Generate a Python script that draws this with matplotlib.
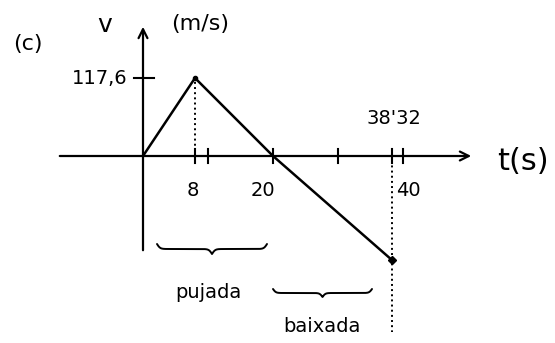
"""
Hand-sketched v-t graph (c): pujada / baixada.
"""

import matplotlib
matplotlib.use("Agg")
import matplotlib.pyplot as plt
import numpy as np

# data
t_pts = [0, 8, 20, 38.32]
v_pts = [0, 117.6, 0, -157]
x_ticks = [8, 10, 20, 30, 38.32, 40]
x_tick_labels = {8: "8", 20: "20", 40: "40"}
v_peak = 117.6
t_peak = 8
t_end = 38.32

# pixel geometry of the sketch -> data limits
W, H = 555, 343
X0, PX_PER_S = 143, 6.5
Y0, PX_PER_V = 156, 78 / 117.6


def t_of(px):
    return (px - X0) / PX_PER_S


def v_of(py):
    return (Y0 - py) / PX_PER_V


def brace(ax, t0, t1, v, depth, beta=35.0):
    """Curly brace with the tip pointing down."""
    u = np.linspace(0, 1, 150)
    y = 1 / (1 + np.exp(-beta * u)) + 1 / (1 + np.exp(-beta * (u - 1))) - 0.5
    half = (t1 - t0) / 2
    xs = np.concatenate([t0 + u * half, t1 - u[::-1] * half])
    ys = np.concatenate([y, y[::-1]])
    ax.plot(xs, v - depth * ys, color="black", lw=1.4, solid_capstyle="round")


fig = plt.figure(figsize=(W / 100, H / 100), dpi=100)
ax = fig.add_axes([0, 0, 1, 1])
ax.set_xlim(t_of(0), t_of(W))
ax.set_ylim(v_of(H), v_of(0))
ax.axis("off")

arrow = dict(arrowstyle="->", color="black", lw=1.6, mutation_scale=16)
# axes
ax.annotate("", xy=(t_of(474), 0), xytext=(t_of(57), 0), arrowprops=arrow)
ax.annotate("", xy=(0, v_of(24)), xytext=(0, v_of(253)), arrowprops=arrow)

# the v(t) polyline
ax.plot(t_pts, v_pts, color="black", lw=1.8, solid_joinstyle="miter")
ax.plot([t_peak], [v_peak], "o", color="black", ms=3)
ax.plot([t_pts[-1]], [v_pts[-1]], "D", color="black", ms=4)

# dotted guides
ax.plot([t_peak, t_peak], [0, v_peak], ls=":", color="black", lw=1.4)
ax.plot([t_end, t_end], [v_of(150), v_of(332)], ls=":", color="black", lw=1.4)

# ticks
tick_h = 7 / PX_PER_V
for tk in x_ticks:
    ax.plot([tk, tk], [-tick_h, tick_h], color="black", lw=1.5)
ax.plot([t_of(134), t_of(154)], [v_peak, v_peak], color="black", lw=1.5)

# tick labels
label_shift = {8: -0.3, 20: -1.5, 40: 0.8}
for tk, lab in x_tick_labels.items():
    ax.text(tk + label_shift[tk], v_of(190), lab, ha="center", va="center",
            fontsize=14)
ax.text(t_end + 0.3, v_of(119), "38'32", ha="center", va="center", fontsize=14)
ax.text(t_of(128), v_peak, "117,6", ha="right", va="center", fontsize=14)

# axis labels
ax.text(t_of(523), v_of(161), "t(s)", ha="center", va="center", fontsize=22)
ax.text(t_of(105), v_of(25), "v", ha="center", va="center", fontsize=18)
ax.text(t_of(200), v_of(24), "(m/s)", ha="center", va="center", fontsize=16)
ax.text(t_of(28), v_of(44), "(c)", ha="center", va="center", fontsize=16)

# braces
brace(ax, t_of(157), t_of(267), v_of(244), 10 / PX_PER_V)
ax.text(t_of(208), v_of(293), "pujada", ha="center", va="center", fontsize=14)
brace(ax, t_of(273), t_of(372), v_of(289), 8 / PX_PER_V)
ax.text(t_of(322), v_of(327), "baixada", ha="center", va="center", fontsize=14)

fig.savefig("out.png", dpi=100)
